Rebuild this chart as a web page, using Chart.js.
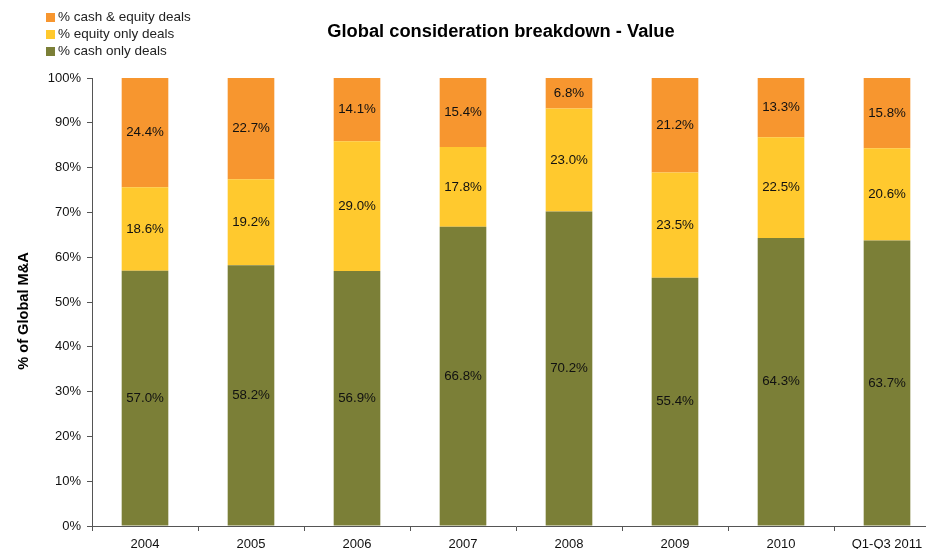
<!DOCTYPE html>
<html>
<head>
<meta charset="utf-8">
<script src="https://cdn.jsdelivr.net/npm/chart.js@4/dist/chart.umd.min.js"></script>
<style>
  html, body { margin: 0; padding: 0; background: #fff; overflow: hidden; }
  #wrap { width: 942px; height: 549px; }
</style>
</head>
<body>
<div id="wrap"><canvas id="chart" width="942" height="549"></canvas></div>
<script>
const years = ['2004', '2005', '2006', '2007', '2008', '2009', '2010', 'Q1-Q3 2011'];
const cashOnly = [57.0, 58.2, 56.9, 66.8, 70.2, 55.4, 64.3, 63.7];
const equityOnly = [18.6, 19.2, 29.0, 17.8, 23.0, 23.5, 22.5, 20.6];
const cashEquity = [24.4, 22.7, 14.1, 15.4, 6.8, 21.2, 13.3, 15.8];
const seriesNames = ['% cash only deals', '% equity only deals', '% cash & equity deals'];
const yTicks = [0, 10, 20, 30, 40, 50, 60, 70, 80, 90, 100];

const colors = ['#7B7F37', '#FFC92E', '#F7962F'];
const font = 'Liberation Sans, Arial, sans-serif';

// labels in the middle of each segment
const segmentLabels = {
    id: 'segmentLabels',
    afterDatasetsDraw(chart) {
        const ctx = chart.ctx;
        ctx.save();
        ctx.font = '13.3px ' + font;
        ctx.fillStyle = '#111';
        ctx.textAlign = 'center';
        ctx.textBaseline = 'middle';
        chart.data.datasets.forEach((ds, i) => {
            chart.getDatasetMeta(i).data.forEach((bar, j) => {
                ctx.fillText(ds.data[j].toFixed(1) + '%', bar.x, (bar.y + bar.base) / 2);
            });
        });
        ctx.restore();
    }
};

// legend, title and y axis title
const decorations = {
    id: 'decorations',
    afterDraw(chart) {
        const ctx = chart.ctx;
        ctx.save();
        ctx.textBaseline = 'middle';
        ctx.textAlign = 'left';
        ctx.font = '13.5px ' + font;
        const order = [2, 1, 0];
        order.forEach((k, r) => {
            const y = 17 + r * 17;
            ctx.fillStyle = colors[k];
            ctx.fillRect(46, y - 4, 9, 9);
            ctx.fillStyle = '#222';
            ctx.fillText(seriesNames[k], 58, y);
        });

        ctx.textAlign = 'center';
        ctx.fillStyle = '#000';
        ctx.font = 'bold 18.3px ' + font;
        ctx.fillText('Global consideration breakdown - Value', 501, 32);

        ctx.translate(24, 311);
        ctx.rotate(-Math.PI / 2);
        ctx.font = 'bold 14.6px ' + font;
        ctx.fillText('% of Global M&A', 0, 0);
        ctx.restore();
    }
};

new Chart(document.getElementById('chart'), {
    type: 'bar',
    data: {
        labels: years,
        datasets: [
            { label: seriesNames[0], data: cashOnly, backgroundColor: colors[0] },
            { label: seriesNames[1], data: equityOnly, backgroundColor: colors[1] },
            { label: seriesNames[2], data: cashEquity, backgroundColor: colors[2] }
        ]
    },
    plugins: [segmentLabels, decorations],
    options: {
        responsive: false,
        animation: false,
        barPercentage: 0.44,
        categoryPercentage: 1,
        layout: { padding: { top: 78, right: 2, left: 0, bottom: 0 } },
        plugins: {
            legend: { display: false },
            title: { display: false },
            tooltip: { enabled: false }
        },
        scales: {
            x: {
                stacked: true,
                grid: {
                    offset: true,
                    drawOnChartArea: false,
                    tickLength: 5,
                    color: '#555'
                },
                border: { color: '#555' },
                ticks: {
                    color: '#111',
                    font: { size: 13, family: font },
                    padding: 6,
                    maxRotation: 0
                },
                afterFit(scale) { scale.height = 23; }
            },
            y: {
                stacked: true,
                min: 0,
                max: 100,
                afterBuildTicks(scale) {
                    scale.ticks = yTicks.map(v => ({ value: v }));
                },
                grid: {
                    drawOnChartArea: false,
                    tickLength: 5,
                    color: '#555'
                },
                border: { color: '#555' },
                ticks: {
                    color: '#111',
                    font: { size: 13, family: font },
                    padding: 6,
                    callback: v => v + '%'
                },
                afterFit(scale) { scale.width = 92; }
            }
        }
    }
});
</script>
</body>
</html>
